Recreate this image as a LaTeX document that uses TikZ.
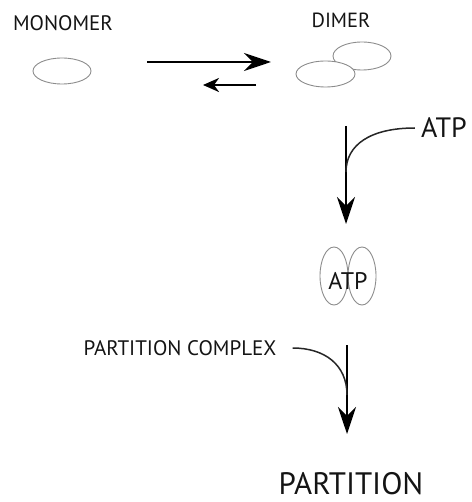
\documentclass[tikz,border=0pt]{standalone}
\usepackage{fontspec}
\setmainfont{PT Sans}
\usetikzlibrary{arrows.meta,shapes.geometric}
\begin{document}
\begin{tikzpicture}[x=1pt,y=-1pt,
  lbl/.style={inner sep=0pt, text=black!92},
  blob/.style={ellipse, draw=black!45, line width=0.9pt, fill=white, inner sep=0pt},
  bigarrow/.style={line width=2.6pt, -{Stealth[length=27pt,width=18pt,inset=9pt]}},
  smallarrow/.style={line width=2.6pt, -{Stealth[length=16pt,width=14pt,inset=5pt]}},
  feed/.style={line width=1.5pt, black!85}]
\path[use as bounding box] (0,0) rectangle (471,502);
% labels
\node[lbl, font=\fontsize{21}{21}\selectfont] (monoL) at (63,23) {MONOMER};
\node[lbl, font=\fontsize{20.5}{21}\selectfont] (dimL) at (341,20) {DIMER};
\node[lbl, font=\fontsize{28}{28}\selectfont] (atpL) at (444,128) {ATP};
\node[lbl, font=\fontsize{21}{21}\selectfont] (pcL) at (180,348) {PARTITION COMPLEX};
\node[lbl, font=\fontsize{31}{31}\selectfont] (partL) at (351,484) {PARTITION};
% molecules
\node[blob, minimum width=58pt, minimum height=26pt] (mono) at (62,71) {};
\node[blob, minimum width=58pt, minimum height=28pt] (dimB) at (362,56) {};
\node[blob, minimum width=59pt, minimum height=26pt] (dimA) at (325.5,74) {};
\node[blob, minimum width=28pt, minimum height=58pt] (cxA) at (334,276) {};
\node[blob, minimum width=28pt, minimum height=58pt, fill=none] (cxB) at (362,276) {};
\node[lbl, font=\fontsize{24}{24}\selectfont] (cxL) at (348,281) {ATP};
% equilibrium arrows
\coordinate (f1) at (147,62);
\coordinate (f2) at (271,62);
\coordinate (b1) at (256,85);
\coordinate (b2) at (203,85);
\draw[bigarrow] (f1) -- (f2);
\draw[smallarrow] (b1) -- (b2);
% ATP binding step
\coordinate (v1) at (346,126);
\coordinate (v2) at (346,224);
\coordinate (j1) at (346,172);
\draw[bigarrow] (v1) -- (v2);
\draw[feed] (atpL.west) ++(-6,0) coordinate (a0) .. controls (370,128) and (346,145) .. (j1);
% partition step
\coordinate (w1) at (347,345);
\coordinate (w2) at (347,434);
\coordinate (j2) at (347,395);
\draw[bigarrow] (w1) -- (w2);
\draw[feed] (pcL.east) ++(16,0) coordinate (p0) .. controls (325,348) and (347,365) .. (j2);
\end{tikzpicture}
\end{document}
